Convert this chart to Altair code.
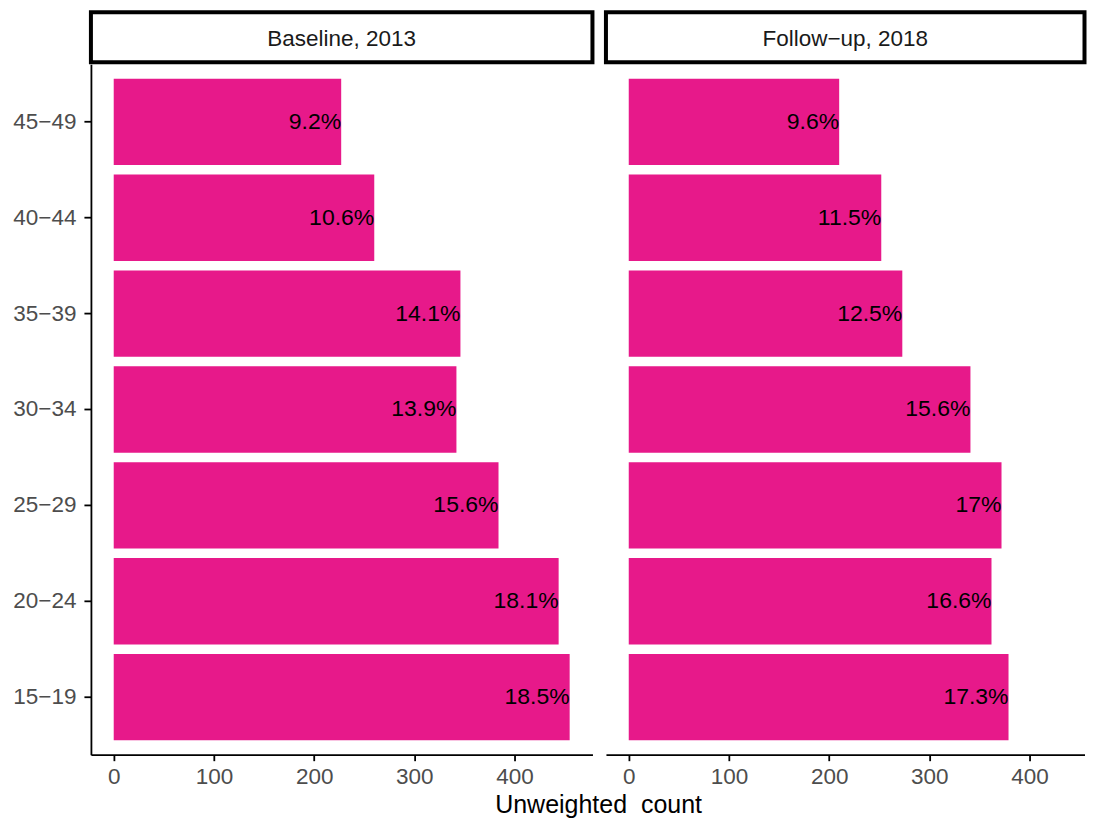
import altair as alt
import pandas as pd

# ---- data ----
age_groups = ["45−49", "40−44", "35−39", "30−34", "25−29", "20−24", "15−19"]
panels = ["Baseline, 2013", "Follow−up, 2018"]
baseline_counts = [227, 260, 346, 342, 384, 444, 455]
baseline_pct = ["9.2%", "10.6%", "14.1%", "13.9%", "15.6%", "18.1%", "18.5%"]
followup_counts = [210, 252, 273, 341, 372, 362, 379]
followup_pct = ["9.6%", "11.5%", "12.5%", "15.6%", "17%", "16.6%", "17.3%"]
x_ticks = [0, 100, 200, 300, 400]
x_title = "Unweighted\u00a0 count"

FONT = "Liberation Sans"
BAR = "#E7198A"
PX_PER_UNIT = 502 / 500.5
XMIN = -22.75


def panel(name, counts, pcts, show_y, width):
    df = pd.DataFrame({"age": age_groups, "count": counts, "label": pcts})
    xmax = XMIN + width / PX_PER_UNIT
    x = alt.X(
        "count:Q",
        scale=alt.Scale(domain=[XMIN, xmax], nice=False, zero=False),
        axis=alt.Axis(values=x_ticks, title=None, labelPadding=5),
    )
    if show_y:
        yaxis = alt.Axis(title=None, labelPadding=8, tickSize=7)
    else:
        yaxis = None
    y = alt.Y(
        "age:N",
        sort=age_groups,
        scale=alt.Scale(paddingInner=0.1, paddingOuter=0.15),
        axis=yaxis,
    )
    base = alt.Chart(df)
    bars = base.mark_bar(color=BAR).encode(x=x, x2=alt.datum(0), y=y)
    text = base.mark_text(
        align="right", baseline="middle", font=FONT, fontSize=23, color="black"
    ).encode(x=x, y=y, text="label:N")
    body = alt.layer(bars, text).properties(
        width=width, height=691, view=alt.ViewBackground(stroke=None)
    )
    strip = (
        alt.Chart(pd.DataFrame({"panel": [name]}))
        .mark_text(font=FONT, fontSize=22.5, color="#1A1A1A", dy=2)
        .encode(text="panel:N")
        .properties(
            width=width,
            height=50,
            view=alt.ViewBackground(stroke="black", strokeWidth=4, fill="white"),
        )
    )
    return alt.vconcat(strip, body, spacing=0)


left = panel(panels[0], baseline_counts, baseline_pct, True, 502)
right = panel(panels[1], followup_counts, followup_pct, False, 479)

chart = (
    alt.hconcat(left, right, spacing=9.5)
    .properties(
        title=alt.TitleParams(
            x_title,
            orient="bottom",
            anchor="middle",
            fontSize=25,
            font=FONT,
            fontWeight="normal",
            color="black",
            dx=49,
            offset=5,
        ),
        padding={"left": 4, "top": 2, "right": 0, "bottom": 0},
    )
    .configure_view(stroke=None)
    .configure_axis(
        grid=False,
        domainColor="black",
        domainWidth=1.8,
        tickColor="black",
        tickWidth=1.8,
        tickSize=6,
        labelColor="#4D4D4D",
        labelFont=FONT,
        labelFontSize=22.5,
    )
)

chart.save("out.html", embed_options={"renderer": "svg", "actions": False})
